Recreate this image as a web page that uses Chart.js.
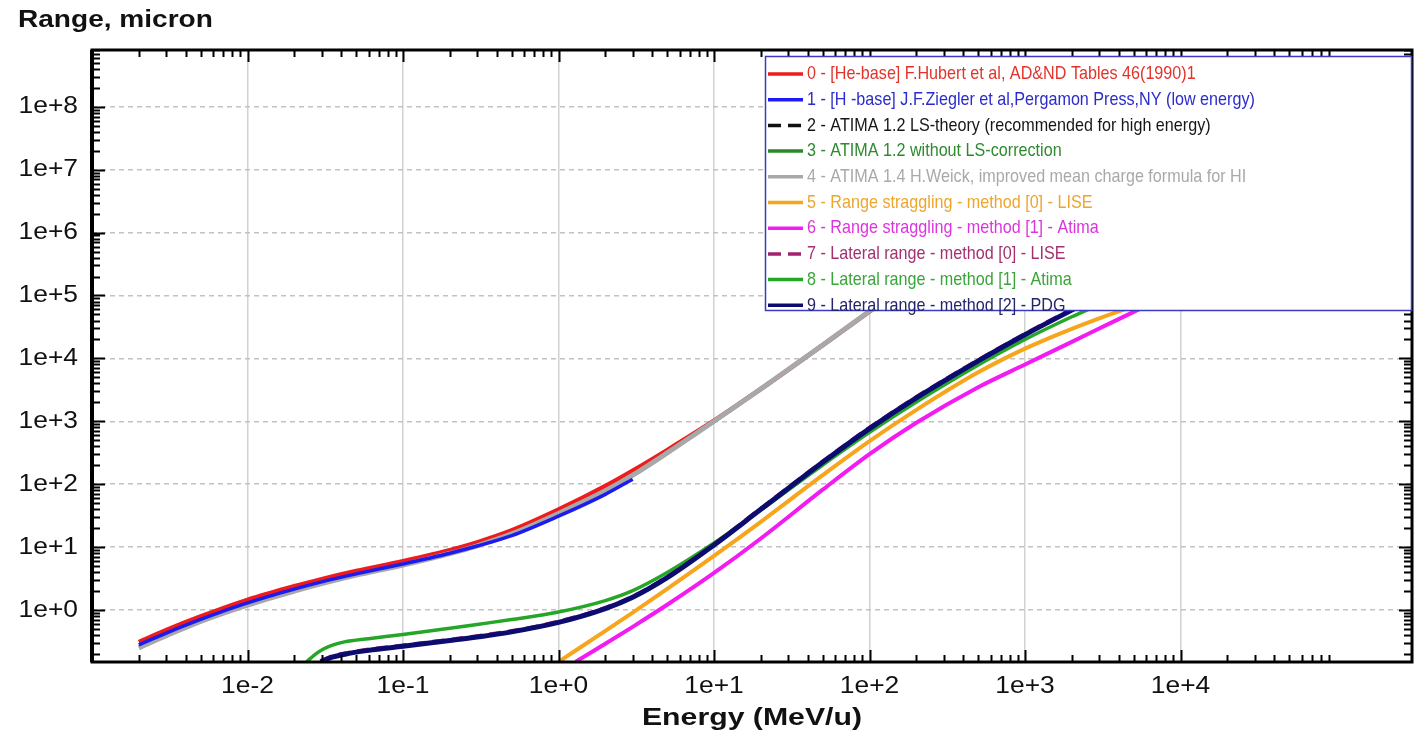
<!DOCTYPE html>
<html>
<head>
<meta charset="utf-8">
<script src="https://cdn.jsdelivr.net/npm/chart.js@4.4.1/dist/chart.umd.min.js"></script>
<style>
  html, body { margin: 0; padding: 0; background: #fff; }
  #wrap { width: 1416px; height: 737px; position: relative; }
</style>
</head>
<body>
<div id="wrap"><canvas id="rangeChart"></canvas></div>
<script>
// Energy in MeV/u, range / straggling in micron
const hubertE = [0.002, 0.003, 0.005, 0.01, 0.02, 0.03, 0.05, 0.1, 0.2, 0.3, 0.5, 1, 2, 3, 5, 10, 20, 50, 100, 200];
const hubertR = [0.31, 0.48, 0.79, 1.45, 2.39, 3.1, 4.17, 5.98, 8.95, 11.9, 18.4, 39.4, 93.5, 164, 349, 1020, 3270, 1.63e4, 5.6e4, 1.95e5];

const zieglerE = [0.002, 0.003, 0.005, 0.01, 0.02, 0.03, 0.05, 0.1, 0.2, 0.3, 0.5, 1, 2, 3];
const zieglerR = [0.28, 0.43, 0.71, 1.3, 2.15, 2.8, 3.75, 5.4, 8.0, 10.4, 15.2, 31, 69, 120];

const atimaLsE = [1, 2, 3, 5, 10, 20, 50, 100, 200];
const atimaLsR = [34.3, 78.5, 139, 314, 1000, 3270, 1.63e4, 5.6e4, 1.95e5];

const atimaNoLsE = [1, 2, 3, 5, 10, 20, 50, 100, 200];
const atimaNoLsR = [34.3, 78.5, 139, 314, 1000, 3270, 1.63e4, 5.6e4, 1.95e5];

const atima14E = [0.002, 0.003, 0.005, 0.01, 0.02, 0.03, 0.05, 0.1, 0.2, 0.3, 0.5, 1, 2, 3, 5, 10, 20, 50, 100, 200];
const atima14R = [0.25, 0.39, 0.66, 1.2, 2.0, 2.63, 3.59, 5.2, 7.9, 10.5, 16.2, 34.3, 78.5, 139, 314, 1000, 3270, 1.63e4, 5.6e4, 1.95e5];

const strLiseE = [1, 2, 3, 5, 10, 20, 50, 100, 200, 500, 1000, 2000, 3000, 5000, 7000];
const strLiseR = [0.15, 0.465, 0.91, 2.17, 7.24, 25.2, 139, 483, 1517, 6000, 1.43e4, 2.95e4, 4.34e4, 6.8e4, 9.0e4];

const strAtimaE = [1.29, 2, 3, 5, 10, 20, 50, 100, 200, 500, 1000, 2000, 3000, 5000, 7000];
const strAtimaR = [0.15, 0.29, 0.54, 1.21, 3.88, 13.7, 81.8, 301, 946, 3475, 7980, 1.83e4, 2.98e4, 5.5e4, 8.2e4];

const latLiseE = [0.0295, 0.035, 0.045, 0.06, 0.1, 0.2, 0.3, 0.5, 1, 2, 3, 5, 10, 20, 50, 100, 200, 500, 1000, 2000, 3000];
const latLiseR = [0.156, 0.185, 0.212, 0.237, 0.276, 0.34, 0.387, 0.467, 0.66, 1.09, 1.65, 3.39, 11.2, 41.4, 232, 797, 2450, 9500, 2.47e4, 6.08e4, 1.0e5];

const latAtimaE = [0.024, 0.027, 0.031, 0.036, 0.042, 0.06, 0.1, 0.2, 0.3, 0.5, 1, 2, 3, 5, 10, 20, 50, 100, 200, 500, 1000, 2000, 3000];
const latAtimaR = [0.150, 0.194, 0.242, 0.281, 0.311, 0.35, 0.408, 0.513, 0.589, 0.705, 0.929, 1.41, 2.03, 3.94, 11.6, 38.9, 202, 667, 2020, 7850, 2.0e4, 4.59e4, 7.2e4];

const latPdgE = [0.0295, 0.035, 0.045, 0.06, 0.1, 0.2, 0.3, 0.5, 1, 2, 3, 5, 10, 20, 50, 100, 200, 500, 1000, 2000, 3000];
const latPdgR = [0.150, 0.178, 0.204, 0.228, 0.265, 0.327, 0.372, 0.449, 0.634, 1.05, 1.59, 3.26, 10.8, 39.8, 223, 766, 2355, 9140, 2.38e4, 5.85e4, 9.7e4];

const seriesLabels = [
  '0 - [He-base] F.Hubert et al, AD&ND Tables 46(1990)1',
  '1 - [H -base] J.F.Ziegler et al,Pergamon Press,NY (low energy)',
  '2 - ATIMA 1.2 LS-theory (recommended for high energy)',
  '3 - ATIMA 1.2 without LS-correction',
  '4 - ATIMA 1.4 H.Weick, improved mean charge formula for HI',
  '5 - Range straggling - method [0] - LISE',
  '6 - Range straggling - method [1] - Atima',
  '7 - Lateral range - method [0] - LISE',
  '8 - Lateral range - method [1] - Atima',
  '9 - Lateral range - method [2] - PDG'
];

const xTickValues = [1e-2, 1e-1, 1, 10, 100, 1000, 1e4];
const xTickLabels = ['1e-2', '1e-1', '1e+0', '1e+1', '1e+2', '1e+3', '1e+4'];
const yTickValues = [1, 10, 100, 1e3, 1e4, 1e5, 1e6, 1e7, 1e8];
const yTickLabels = ['1e+0', '1e+1', '1e+2', '1e+3', '1e+4', '1e+5', '1e+6', '1e+7', '1e+8'];

const toPoints = (e, r) => e.map((v, i) => ({ x: v, y: r[i] }));

// line styles; lower "order" is painted on top
const styles = [
  { color: '#ee1c1c', text: '#e2332b', width: 4.5, order: 9 },
  { color: '#1c1cf0', text: '#2b2bcc', width: 3.5, order: 5 },
  { color: '#111111', text: '#161616', width: 3.5, order: 7, dash: [12, 7] },
  { color: '#2a8a2a', text: '#2f8a2f', width: 3.5, order: 8 },
  { color: '#a8a8a8', text: '#a9a9a9', width: 5, order: 6 },
  { color: '#f7a51c', text: '#eea52c', width: 4, order: 3 },
  { color: '#f21cf2', text: '#dd33dd', width: 4, order: 4 },
  { color: '#a3226e', text: '#a3306f', width: 3.5, order: 1, dash: [12, 7] },
  { color: '#26a626', text: '#3aa53a', width: 3.5, order: 2 },
  { color: '#0c0c70', text: '#25256b', width: 5, order: 0 }
];

const seriesData = [
  toPoints(hubertE, hubertR),
  toPoints(zieglerE, zieglerR),
  toPoints(atimaLsE, atimaLsR),
  toPoints(atimaNoLsE, atimaNoLsR),
  toPoints(atima14E, atima14R),
  toPoints(strLiseE, strLiseR),
  toPoints(strAtimaE, strAtimaR),
  toPoints(latLiseE, latLiseR),
  toPoints(latAtimaE, latAtimaR),
  toPoints(latPdgE, latPdgR)
];

const datasets = seriesData.map((pts, i) => ({
  label: seriesLabels[i],
  data: pts,
  borderColor: styles[i].color,
  borderWidth: styles[i].width,
  borderDash: styles[i].dash || [],
  order: styles[i].order,
  pointRadius: 0,
  cubicInterpolationMode: 'monotone',
  fill: false
}));

// text drawn with a horizontal stretch factor
function stretchText(ctx, str, x, y, font, sx, align, color) {
  ctx.save();
  ctx.font = font;
  ctx.fillStyle = color || '#111';
  ctx.textBaseline = 'middle';
  const w = ctx.measureText(str).width * sx;
  let left = x;
  if (align === 'center') left = x - w / 2;
  else if (align === 'right') left = x - w;
  ctx.translate(left, y);
  ctx.scale(sx, 1);
  ctx.textAlign = 'left';
  ctx.fillText(str, 0, 0);
  ctx.restore();
}

const framePlugin = {
  id: 'framePlugin',
  afterDatasetsDraw(chart) {
    const { ctx, chartArea: a, scales } = chart;
    const xs = scales.x, ys = scales.y;
    ctx.save();
    ctx.strokeStyle = '#000';
    ctx.lineWidth = 2;
    ctx.setLineDash([]);

    // inward tick marks on all four sides
    ctx.beginPath();
    for (let p = -3; p <= 4; p++) {
      for (let m = 1; m <= 9; m++) {
        const v = m * Math.pow(10, p);
        if (v < xs.min || v > xs.max) continue;
        const px = Math.round(xs.getPixelForValue(v)) + 0.5;
        const len = m === 1 ? 12 : 7;
        ctx.moveTo(px, a.bottom); ctx.lineTo(px, a.bottom - len);
        ctx.moveTo(px, a.top); ctx.lineTo(px, a.top + len);
      }
    }
    for (let p = -1; p <= 8; p++) {
      for (let m = 1; m <= 9; m++) {
        const v = m * Math.pow(10, p);
        if (v < ys.min || v > ys.max) continue;
        const py = Math.round(ys.getPixelForValue(v)) + 0.5;
        const len = m === 1 ? 13 : 8;
        ctx.moveTo(a.left, py); ctx.lineTo(a.left + len, py);
        ctx.moveTo(a.right, py); ctx.lineTo(a.right - len, py);
      }
    }
    ctx.stroke();

    // frame
    ctx.lineWidth = 3;
    ctx.strokeRect(a.left, a.top, a.right - a.left, a.bottom - a.top);
    ctx.lineWidth = 4;
    ctx.beginPath();
    ctx.moveTo(a.left, a.top); ctx.lineTo(a.left, a.bottom);
    ctx.stroke();

    // tick labels
    const tickFont = '24px "Liberation Sans", Arial, sans-serif';
    xTickValues.forEach((v, i) => {
      stretchText(ctx, xTickLabels[i], xs.getPixelForValue(v), a.bottom + 24, tickFont, 1.1, 'center');
    });
    yTickValues.forEach((v, i) => {
      stretchText(ctx, yTickLabels[i], a.left - 14, ys.getPixelForValue(v), tickFont, 1.1, 'right');
    });

    // titles
    stretchText(ctx, 'Range, micron', 18, 21, 'bold 23px "Liberation Sans", Arial, sans-serif', 1.22, 'left');
    stretchText(ctx, 'Energy (MeV/u)', (a.left + a.right) / 2, 718, 'bold 24px "Liberation Sans", Arial, sans-serif', 1.26, 'center');

    // legend box
    const lb = { left: 765, top: 56, right: a.right, bottom: 311 };
    ctx.fillStyle = '#fff';
    ctx.fillRect(lb.left, lb.top, lb.right - lb.left, lb.bottom - lb.top);
    ctx.strokeStyle = '#3a3ac4';
    ctx.lineWidth = 1.5;
    ctx.strokeRect(lb.left + 0.5, lb.top + 0.5, lb.right - lb.left - 1, lb.bottom - lb.top - 1);

    chart.data.datasets.forEach((ds, i) => {
      const cy = 74 + i * 25.7;
      ctx.save();
      ctx.strokeStyle = ds.borderColor;
      ctx.lineWidth = 3.5;
      ctx.setLineDash(ds.borderDash.length ? [13, 7] : []);
      ctx.beginPath();
      ctx.moveTo(768, cy); ctx.lineTo(803, cy);
      ctx.stroke();
      ctx.restore();
      stretchText(ctx, ds.label, 807, cy, '19px "Liberation Sans", Arial, sans-serif', 0.85, 'left', styles[i].text);
    });

    ctx.restore();
  }
};

new Chart(document.getElementById('rangeChart'), {
  type: 'line',
  data: { datasets },
  options: {
    responsive: true,
    maintainAspectRatio: false,
    animation: false,
    layout: { padding: { left: 92, top: 50, right: 4, bottom: 75 } },
    plugins: { legend: { display: false }, tooltip: { enabled: false }, title: { display: false } },
    scales: {
      x: {
        type: 'logarithmic',
        min: 1e-3,
        max: 3.08e5,
        afterBuildTicks: (s) => { s.ticks = xTickValues.map(v => ({ value: v })); },
        afterFit: (s) => { s.height = 0; },
        ticks: { display: false },
        border: { display: false },
        grid: { drawTicks: false, color: '#d2d2d2', lineWidth: 1.5 }
      },
      y: {
        type: 'logarithmic',
        min: 0.149,
        max: 8.0e8,
        afterBuildTicks: (s) => { s.ticks = yTickValues.map(v => ({ value: v })); },
        afterFit: (s) => { s.width = 0; },
        ticks: { display: false },
        border: { display: false, dash: [5, 4] },
        grid: { drawTicks: false, color: '#c2c2c2', lineWidth: 1.5 }
      }
    }
  },
  plugins: [framePlugin]
});
</script>
</body>
</html>
